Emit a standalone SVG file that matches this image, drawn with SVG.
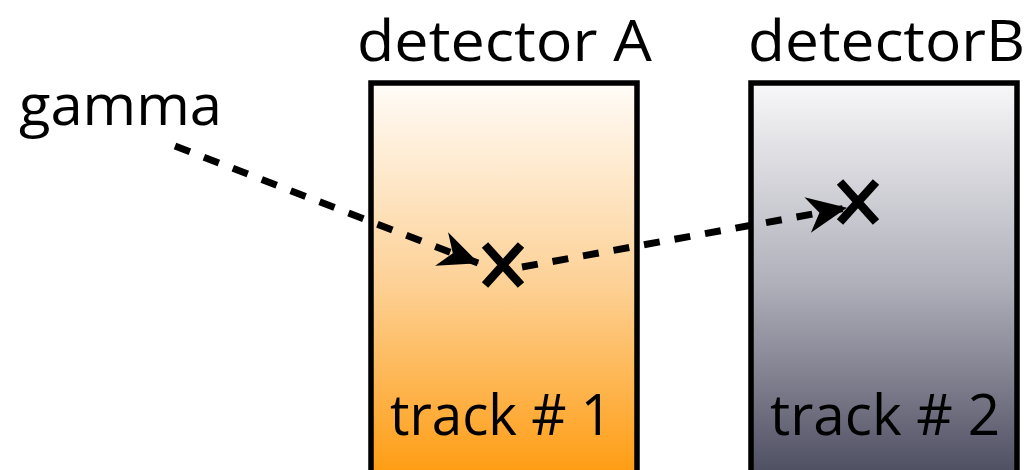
<svg xmlns="http://www.w3.org/2000/svg" width="1031" height="470" viewBox="0 0 1031 470">
  <style>
    .lbl { font-family: "Open Sans", "Noto Sans", "DejaVu Sans", sans-serif; font-size: 56px; fill: #000; }
    .box { stroke: #000; stroke-width: 5.5; }
    .ray { fill: none; stroke: #000; stroke-width: 7; stroke-dasharray: 16 15; }
    .hit { fill: none; stroke: #000; stroke-width: 8.5; }
  </style>
  <defs>
    <linearGradient id="gradA" x1="0" y1="0" x2="0" y2="1">
      <stop offset="0" stop-color="#fffcf8"/>
      <stop offset="0.5" stop-color="#fdd196"/>
      <stop offset="1" stop-color="#ff9a0c"/>
    </linearGradient>
    <linearGradient id="gradB" x1="0" y1="0" x2="0" y2="1">
      <stop offset="0" stop-color="#f8f8f9"/>
      <stop offset="0.5" stop-color="#b0b0bb"/>
      <stop offset="1" stop-color="#4a4a5e"/>
    </linearGradient>
    <!-- swept-back filled arrowhead -->
    <marker id="arrow" viewBox="0 0 40 36" refX="39" refY="18" markerWidth="40" markerHeight="36" orient="auto" markerUnits="userSpaceOnUse">
      <path d="M0,0 L40,18 L0,36 L12,18 Z" fill="#000"/>
    </marker>
  </defs>

  <g id="detectorA">
    <rect class="box" x="371" y="83" width="266" height="400" fill="url(#gradA)"/>
    <text class="lbl" x="357" y="61" textLength="295" lengthAdjust="spacingAndGlyphs">detector A</text>
    <text class="lbl" x="390" y="435" textLength="222" lengthAdjust="spacingAndGlyphs">track # 1</text>
  </g>

  <g id="detectorB">
    <rect class="box" x="751" y="83" width="266" height="400" fill="url(#gradB)"/>
    <text class="lbl" x="748" y="61" textLength="277" lengthAdjust="spacingAndGlyphs">detectorB</text>
    <text class="lbl" x="770" y="435" textLength="230" lengthAdjust="spacingAndGlyphs">track # 2</text>
  </g>

  <g id="gamma">
    <text class="lbl" x="19" y="125" font-size="55" textLength="203" lengthAdjust="spacingAndGlyphs">gamma</text>
  </g>

  <g id="hits">
    <path class="hit" d="M485,245 L521,285 M521,245 L485,285"/>
    <path class="hit" d="M840,182 L876,222 M876,182 L840,222"/>
  </g>

  <g id="connectors">
    <path class="ray" d="M175,146 L478,263" marker-end="url(#arrow)"/>
    <path class="ray" d="M522,267 L846,208" marker-end="url(#arrow)"/>
  </g>
</svg>
